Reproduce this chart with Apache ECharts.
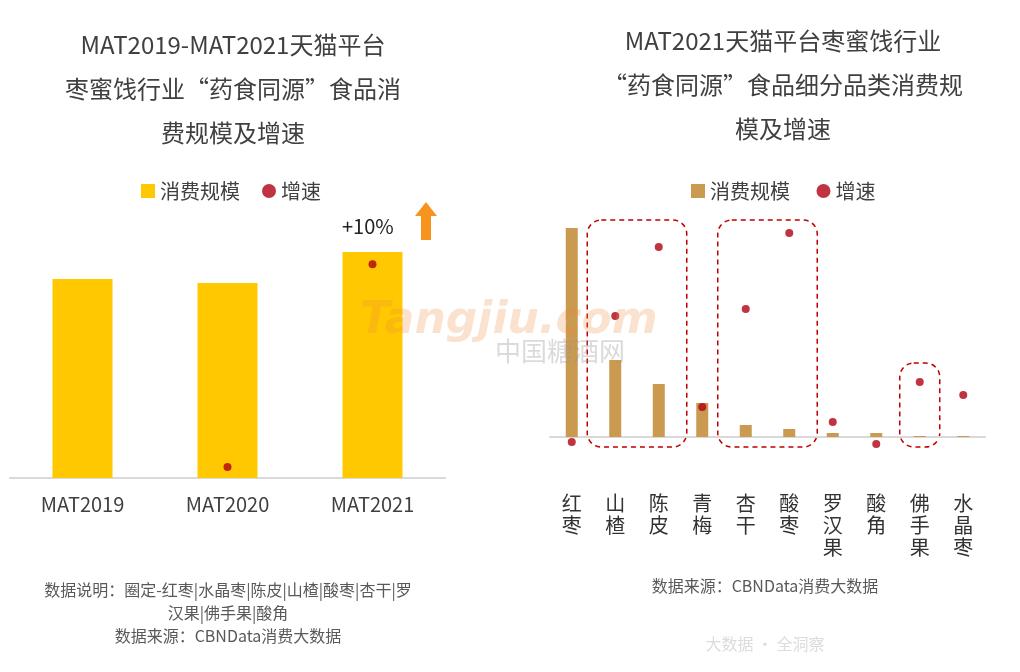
<!DOCTYPE html>
<html><head><meta charset="utf-8">
<script src="https://cdn.jsdelivr.net/npm/echarts@6/dist/echarts.min.js"></script>
<style>html,body{margin:0;background:#fff}#c{width:1020px;height:672px}</style>
</head><body><div id="c"></div>
<script>
// left chart
const yearCats = ['MAT2019', 'MAT2020', 'MAT2021']
const yearScale = [100.2, 98.2, 113.8]
const yearGrowth = [null, -3.2, 29.6]
// right chart (relative units)
const fruitCats = ['红枣', '山楂', '陈皮', '青梅', '杏干', '酸枣', '罗汉果', '酸角', '佛手果', '水晶枣']
const fruitScale = [209, 77, 53, 34, 12, 8, 4, 4, 1, 1]
const fruitGrowth = [-5, 121, 190, 30, 128, 204, 15, -7, 55, 42]
const boxGroups = [[1, 2], [4, 5], [8, 8]]

const red = '#B00010'
const font = 'Noto Sans CJK SC'
const chart = echarts.init(document.getElementById('c'))

const titleStyle = { fontSize: 24, fontWeight: 'normal', color: '#404040', fontFamily: font, lineHeight: 44, align: 'center' }

chart.setOption({
    textStyle: { fontFamily: font },
    title: [
        { text: 'MAT2019-MAT2021天猫平台\n枣蜜饯行业“药食同源”食品消\n费规模及增速', left: 228, top: 18, textAlign: 'center', textStyle: titleStyle },
        { text: 'MAT2021天猫平台枣蜜饯行业\n“药食同源”食品细分品类消费规\n模及增速', left: 778, top: 14, textAlign: 'center', textStyle: titleStyle }
    ],
    legend: [
        { top: 176, left: 136, itemGap: 22, itemWidth: 14, itemHeight: 14, textStyle: { fontSize: 20, color: '#404040' },
          data: [{ name: '消费规模', icon: 'rect' }, { name: '增速', icon: 'circle', itemStyle: { color: red } }] },
        { top: 176, left: 686, itemGap: 22, itemWidth: 14, itemHeight: 14, textStyle: { fontSize: 20, color: '#404040' },
          data: [{ name: '消费规模 ', icon: 'rect' }, { name: '增速 ', icon: 'circle', itemStyle: { color: red } }] }
    ],
    grid: [
        { left: 10, width: 435, top: 200, height: 278 },
        { left: 550, width: 435, top: 220, height: 230 }
    ],
    xAxis: [
        { gridIndex: 0, type: 'category', data: yearCats, axisTick: { show: false },
          axisLine: { lineStyle: { color: '#d9d9d9', width: 2 } },
          axisLabel: { fontSize: 20, color: '#404040', margin: 16 } },
        { gridIndex: 1, type: 'category', data: fruitCats, axisTick: { show: false },
          axisLine: { onZero: true, onZeroAxisIndex: 2, lineStyle: { color: '#d9d9d9', width: 2 } },
          axisLabel: { fontSize: 20, color: '#333', margin: 42, lineHeight: 22, verticalAlign: 'top',
            formatter: v => v.split('').join('\n') } }
    ],
    yAxis: [
        { gridIndex: 0, min: 0, max: 140, show: false },
        { gridIndex: 0, min: -5, max: 40, show: false },
        { gridIndex: 1, min: -13, max: 217, show: false },
        { gridIndex: 1, min: -13, max: 217, show: false }
    ],
    series: [
        { name: '消费规模', type: 'bar', xAxisIndex: 0, yAxisIndex: 0, data: yearScale, barWidth: 60, itemStyle: { color: '#FFC800' } },
        { name: '增速', type: 'scatter', xAxisIndex: 0, yAxisIndex: 1, data: yearGrowth, symbolSize: 8, itemStyle: { color: red } },
        { name: '消费规模 ', type: 'bar', xAxisIndex: 1, yAxisIndex: 2, data: fruitScale, barWidth: 12, itemStyle: { color: '#C99A50' } },
        { name: '增速 ', type: 'scatter', xAxisIndex: 1, yAxisIndex: 3, data: fruitGrowth, symbolSize: 8, itemStyle: { color: red } }
    ]
})

const extra = [
    { type: 'text', left: 342, top: 216, style: { text: '+10%', fontSize: 20, fill: '#222', fontFamily: font } },
    { type: 'polygon', shape: { points: [[426, 202], [437, 216], [431, 216], [431, 240], [421, 240], [421, 216], [415, 216]] }, style: { fill: '#F7941D' } },
    { type: 'text', left: 360, top: 300, z: 10, style: { text: 'Tangjiu.com', fontSize: 44, fontStyle: 'italic', fontWeight: 'bold', fill: 'rgba(240,140,60,0.25)', fontFamily: 'DejaVu Sans' } },
    { type: 'text', left: 495, top: 338, z: 10, style: { text: '中国糖酒网', fontSize: 26, fill: 'rgba(150,150,150,0.35)', fontFamily: font } },
    { type: 'text', x: 228, y: 578, style: { text: '数据说明：圈定-红枣|水晶枣|陈皮|山楂|酸枣|杏干|罗\n汉果|佛手果|酸角\n数据来源：CBNData消费大数据', fontSize: 16, lineHeight: 23, align: 'center', fill: '#595959', fontFamily: font } },
    { type: 'text', x: 765, y: 578, style: { text: '数据来源：CBNData消费大数据', fontSize: 16, align: 'center', fill: '#595959', fontFamily: font } },
    { type: 'text', x: 765, y: 636, style: { text: '大数据 · 全洞察', fontSize: 16, align: 'center', fill: '#dcdcdc', fontFamily: font } }
]
boxGroups.forEach(([a, b]) => {
    const x1 = chart.convertToPixel({ xAxisIndex: 1 }, fruitCats[a])
    const x2 = chart.convertToPixel({ xAxisIndex: 1 }, fruitCats[b])
    const top = b === 8 ? chart.convertToPixel({ yAxisIndex: 3 }, 74) : chart.convertToPixel({ yAxisIndex: 3 }, 217)
    const bot = chart.convertToPixel({ yAxisIndex: 3 }, -10)
    const pad = a === b ? 20 : 28
    extra.push({ type: 'rect', shape: { x: x1 - pad, y: top, width: x2 - x1 + 2 * pad, height: bot - top, r: 14 },
        style: { fill: 'none', stroke: '#C00000', lineWidth: 1.5, lineDash: [5, 4] } })
})
chart.setOption({ graphic: extra })
</script></body></html>
